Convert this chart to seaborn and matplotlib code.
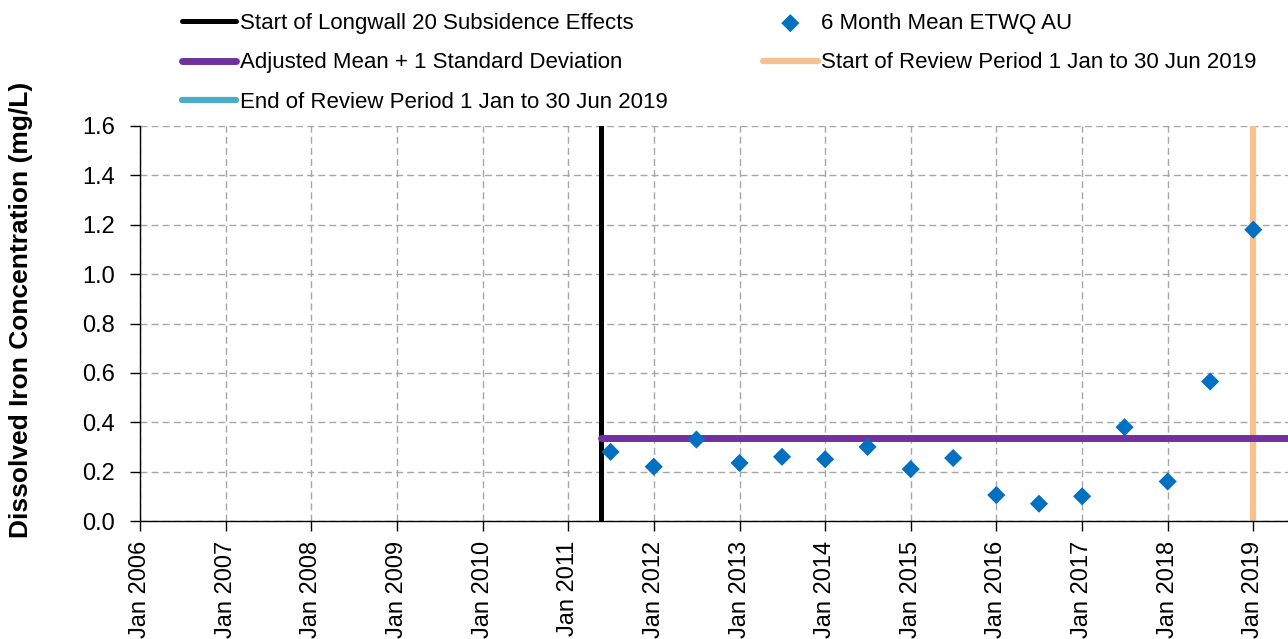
import pandas as pd
import matplotlib.pyplot as plt
import matplotlib.dates as mdates
import seaborn as sns

# 6 month mean values
dates = ["2011-07-01", "2012-01-01", "2012-07-01", "2013-01-01", "2013-07-01",
         "2014-01-01", "2014-07-01", "2015-01-01", "2015-07-01", "2016-01-01",
         "2016-07-01", "2017-01-01", "2017-07-01", "2018-01-01", "2018-07-01",
         "2019-01-01"]
iron = [0.28, 0.22, 0.33, 0.235, 0.26, 0.25, 0.30, 0.21, 0.255, 0.105,
        0.07, 0.10, 0.38, 0.16, 0.565, 1.18]

lw20_start = "2011-05-20"
adjusted_mean_sd = 0.335
review_start = "2019-01-01"
review_end = "2019-06-30"

df = pd.DataFrame({"date": pd.to_datetime(dates), "iron": iron})

sns.set_style("white")
plt.rcParams["font.family"] = ["Liberation Sans", "DejaVu Sans"]
for key in ["text.color", "axes.labelcolor", "xtick.color", "ytick.color"]:
    plt.rcParams[key] = "black"

fig = plt.figure(figsize=(12.88, 6.39), dpi=100)
ax = fig.add_axes([140 / 1288, 1 - 521 / 639, 1 - 140 / 1288, (521 - 126) / 639])

ax.axvline(pd.Timestamp(lw20_start), color="black", lw=3.6,
           label="Start of Longwall 20 Subsidence Effects", zorder=3)
ax.plot([pd.Timestamp(lw20_start), pd.Timestamp("2020-06-01")],
        [adjusted_mean_sd, adjusted_mean_sd], color="#7030A0", lw=5,
        solid_capstyle="round", label="Adjusted Mean + 1 Standard Deviation", zorder=3)
ax.axvline(pd.Timestamp(review_end), color="#4BACC6", lw=4.5,
           label="End of Review Period 1 Jan to 30 Jun 2019", zorder=3)
sns.scatterplot(data=df, x="date", y="iron", ax=ax, marker="D", s=85,
                color="#0070C0", edgecolor="none", label="6 Month Mean ETWQ AU",
                legend=False, zorder=5)
ax.axvline(pd.Timestamp(review_start), color="#FAC090", lw=4.5,
           label="Start of Review Period 1 Jan to 30 Jun 2019", zorder=2)
if ax.get_legend() is not None:
    ax.get_legend().remove()

ax.set_xlim(pd.Timestamp("2006-01-01"), pd.Timestamp("2019-05-29"))
ax.set_ylim(0, 1.6)
ax.set_yticks([0, 0.2, 0.4, 0.6, 0.8, 1.0, 1.2, 1.4, 1.6])
ax.yaxis.set_major_formatter(plt.FuncFormatter(lambda v, p: f"{v:.1f}"))
ax.xaxis.set_major_locator(mdates.YearLocator())
ax.xaxis.set_major_formatter(mdates.DateFormatter("Jan %Y"))
plt.setp(ax.get_xticklabels(), rotation=90)

ax.grid(True, linestyle=(0, (5, 3)), color="#a6a6a6", lw=1)
for s in ["top", "right"]:
    ax.spines[s].set_visible(False)
for s in ["left", "bottom"]:
    ax.spines[s].set_color("black")
    ax.spines[s].set_linewidth(1)
ax.tick_params(axis="both", direction="out", length=7, width=1, color="black",
               labelsize=17, bottom=True, left=True)
ax.tick_params(axis="y", pad=11)
ax.tick_params(axis="x", pad=7)
ax.set_xlabel("")
ax.set_ylabel("Dissolved Iron Concentration (mg/L)", fontsize=19, fontweight="bold")
ax.yaxis.set_label_coords(-0.093, 0.535)

handles, labels = ax.get_legend_handles_labels()
order = ["Start of Longwall 20 Subsidence Effects", "Adjusted Mean + 1 Standard Deviation",
         "End of Review Period 1 Jan to 30 Jun 2019", "6 Month Mean ETWQ AU",
         "Start of Review Period 1 Jan to 30 Jun 2019"]
hmap = dict(zip(labels, handles))
fig.legend([hmap[l] for l in order], order, loc="upper left",
           bbox_to_anchor=(182 / 1288, 1 - 13 / 639), ncol=2, frameon=False, fontsize=16,
           handlelength=2.45, handletextpad=0.15, columnspacing=4.3, labelspacing=0.83,
           borderpad=0, borderaxespad=0)

fig.savefig("out.png", dpi=100)
